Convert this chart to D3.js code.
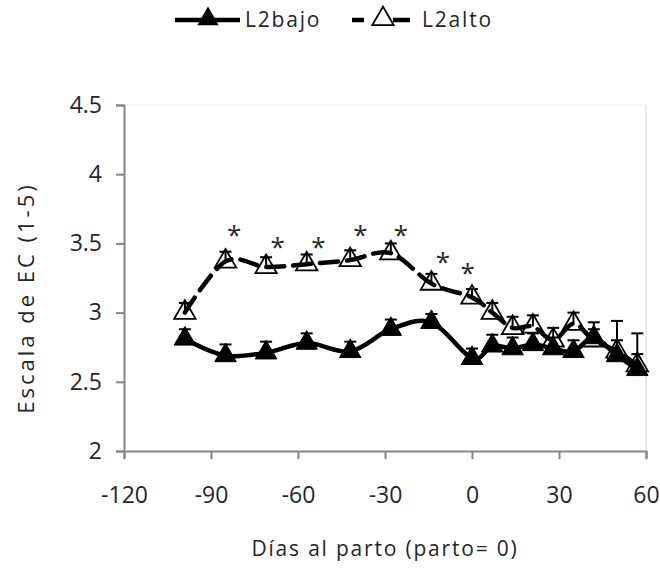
<!DOCTYPE html>
<html><head><meta charset="utf-8">
<script src="https://cdn.jsdelivr.net/npm/d3@7"></script>
<style>
html,body{margin:0;padding:0;background:#fff;}
text{font-family:"Open Sans",sans-serif;fill:#262626;}
</style></head>
<body>
<svg id="chart" width="660" height="568"></svg>
<script>
// ---- data ----
const days      = [-99, -85, -71, -57, -42, -28, -14, 0, 7, 14, 21, 28, 35, 42, 50, 57];
const bajo      = [2.81, 2.69, 2.71, 2.78, 2.72, 2.88, 2.93, 2.67, 2.76, 2.74, 2.77, 2.74, 2.72, 2.82, 2.69, 2.59];
const bajoErr   = [0.07, 0.08, 0.08, 0.07, 0.07, 0.07, 0.06, 0.07, 0.08, 0.08, 0.08, 0.08, 0.08, 0.11, 0.25, 0.26];
const alto      = [3.00, 3.37, 3.33, 3.35, 3.38, 3.43, 3.21, 3.11, 3.00, 2.89, 2.90, 2.80, 2.92, 2.80, 2.72, 2.62];
const altoErr   = [0.07, 0.07, 0.07, 0.07, 0.07, 0.07, 0.07, 0.06, 0.07, 0.08, 0.08, 0.09, 0.08, 0.08, 0.08, 0.08];
const starDays  = [-82, -67, -53, -38.5, -24.5, -10, -1.5];
const starVals  = [3.60, 3.51, 3.51, 3.60, 3.60, 3.40, 3.32];
const xTicks    = [-120, -90, -60, -30, 0, 30, 60];
const yTicks    = [2, 2.5, 3, 3.5, 4, 4.5];
const seriesNames = ["L2bajo", "L2alto"];
const xTitle = "Días al parto (parto= 0)";
const yTitle = "Escala de EC (1-5)";

const svg = d3.select("#chart");
const x = d3.scaleLinear().domain([-120, 60]).range([124, 646]);
const y = d3.scaleLinear().domain([2, 4.5]).range([451, 105]);
const axisColor = "#868686";

// plot area border (faint)
svg.append("line").attr("x1", x(-120)).attr("x2", x(60)).attr("y1", y(4.5)).attr("y2", y(4.5))
  .attr("stroke", "#efefef").attr("stroke-width", 1);
svg.append("line").attr("x1", x(60)).attr("x2", x(60)).attr("y1", y(4.5)).attr("y2", y(2))
  .attr("stroke", "#d9d9d9").attr("stroke-width", 1);

// axes
const gx = svg.append("g").attr("transform", `translate(0,${y(2)})`)
  .call(d3.axisBottom(x).tickValues(xTicks).tickSize(8).tickSizeOuter(8).tickFormat(d => String(d)));
gx.selectAll("text").attr("y", 36).attr("font-size", 23).attr("font-family", "Open Sans").attr("fill", "#262626");
const gy = svg.append("g").attr("transform", `translate(${x(-120)},0)`)
  .call(d3.axisLeft(y).tickValues(yTicks).tickSize(8).tickSizeOuter(8).tickFormat(d => String(d)));
gy.selectAll("text").attr("x", -22).attr("font-size", 23).attr("font-family", "Open Sans").attr("fill", "#262626");
svg.selectAll(".domain").attr("stroke", axisColor).attr("stroke-width", 2);
svg.selectAll(".tick line").attr("stroke", axisColor).attr("stroke-width", 2);

// titles
svg.append("text").attr("x", 385).attr("y", 556).attr("text-anchor", "middle")
  .attr("font-size", 21).attr("letter-spacing", 1.8).text(xTitle);
svg.append("text").attr("transform", "translate(34,298) rotate(-90)").attr("text-anchor", "middle")
  .attr("font-size", 22).attr("letter-spacing", 3).text(yTitle);

const line = d3.line().curve(d3.curveCardinal.tension(0)).x(d => x(d[0])).y(d => y(d[1]));
const bajoPts = days.map((d, i) => [d, bajo[i], bajoErr[i]]);
const altoPts = days.map((d, i) => [d, alto[i], altoErr[i]]);

const tri = d3.symbol().type(d3.symbolTriangle).size(200);

// L2bajo line
svg.append("path").datum(bajoPts).attr("d", line).attr("fill", "none")
  .attr("stroke", "#000").attr("stroke-width", 4.5).attr("stroke-linejoin", "round");
// L2alto line
svg.append("path").datum(altoPts).attr("d", line).attr("fill", "none")
  .attr("stroke", "#000").attr("stroke-width", 4.5).attr("stroke-dasharray", "18,9")
  .attr("stroke-linecap", "round");

function errBars(pts) {
  const g = svg.append("g").attr("stroke", "#000").attr("stroke-width", 2);
  g.selectAll("line.v").data(pts).join("line").attr("class", "v")
    .attr("x1", d => x(d[0])).attr("x2", d => x(d[0]))
    .attr("y1", d => y(d[1])).attr("y2", d => y(d[1] + d[2]));
  g.selectAll("line.c").data(pts).join("line").attr("class", "c")
    .attr("x1", d => x(d[0]) - 6).attr("x2", d => x(d[0]) + 6)
    .attr("y1", d => y(d[1] + d[2])).attr("y2", d => y(d[1] + d[2]));
}

// markers
svg.append("g").selectAll("path").data(bajoPts).join("path")
  .attr("d", tri).attr("transform", d => `translate(${x(d[0])},${y(d[1])})`)
  .attr("fill", "#000").attr("stroke", "#000").attr("stroke-width", 1);
errBars(bajoPts);
svg.append("g").selectAll("path").data(altoPts).join("path")
  .attr("d", tri).attr("transform", d => `translate(${x(d[0])},${y(d[1])})`)
  .attr("fill", "none").attr("stroke", "#000").attr("stroke-width", 1.8);
errBars(altoPts);

// significance asterisks
svg.append("g").selectAll("text").data(starDays).join("text")
  .attr("x", d => x(d)).attr("y", (d, i) => y(starVals[i]) + 14)
  .attr("text-anchor", "middle").attr("font-size", 26).attr("fill", "#333").text("*");

// legend
const lg = svg.append("g");
lg.append("line").attr("x1", 175).attr("x2", 240).attr("y1", 20).attr("y2", 20)
  .attr("stroke", "#000").attr("stroke-width", 4.5);
lg.append("path").attr("d", tri).attr("transform", "translate(208,19)").attr("fill", "#000");
lg.append("text").attr("x", 245).attr("y", 27).attr("font-size", 21).attr("letter-spacing", 1.8).text(seriesNames[0]);
lg.append("line").attr("x1", 352).attr("x2", 410).attr("y1", 20).attr("y2", 20)
  .attr("stroke", "#000").attr("stroke-width", 4.5).attr("stroke-dasharray", "12,29,17");
lg.append("path").attr("d", tri).attr("transform", "translate(383,19)").attr("fill", "#fff")
  .attr("stroke", "#000").attr("stroke-width", 1.8);
lg.append("text").attr("x", 422).attr("y", 27).attr("font-size", 21).attr("letter-spacing", 1.8).text(seriesNames[1]);
</script>
</body></html>
